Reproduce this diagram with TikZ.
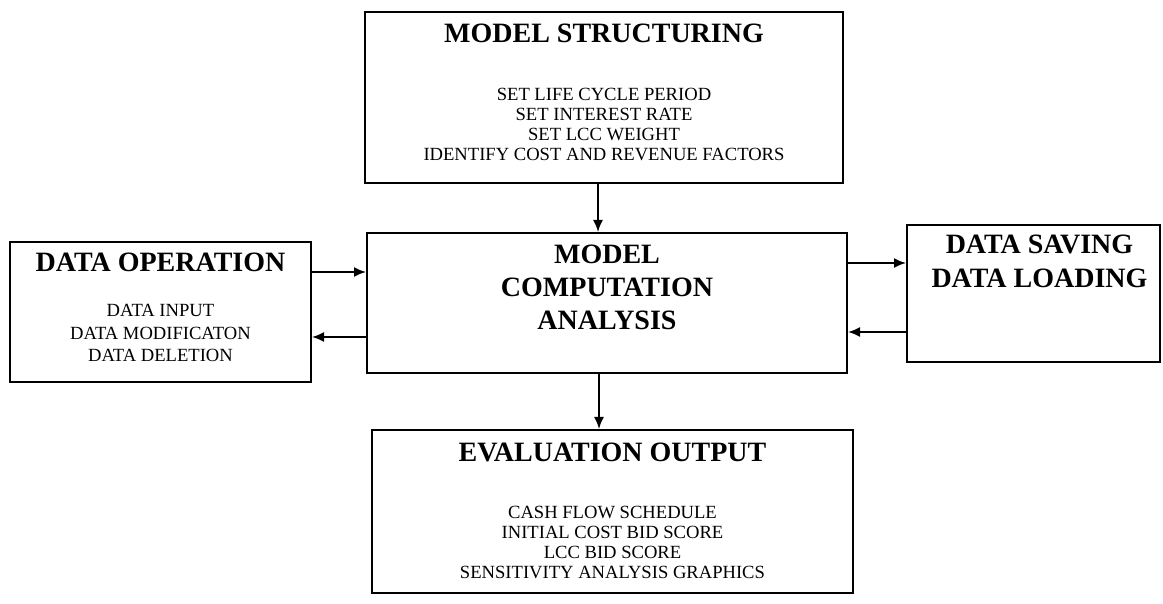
\documentclass[tikz,border=0pt]{standalone}
\usepackage{fontspec}
\setmainfont{Liberation Serif}
\usetikzlibrary{positioning,arrows.meta}
\tikzset{
  box/.style={draw, line width=1pt, inner sep=0pt},
  head/.style={inner sep=0pt, align=center, font=\fontsize{14}{16.5}\selectfont\bfseries},
  item/.style={inner sep=0pt, align=center, font=\fontsize{9.3}{10}\selectfont},
  flow/.style={-{Latex[length=6pt,width=5pt]}, line width=0.9pt},
}
\begin{document}
\begin{tikzpicture}[x=0.5pt,y=-0.5pt]
    \useasboundingbox (0,0) rectangle (1163,604);
    % boxes
    \node[box, minimum width=239pt, minimum height=85.5pt] (ms) at (604,97.5) {};
    \node[box, minimum width=240pt, minimum height=70pt] (comp) at (607,303) {};
    \node[box, minimum width=150.5pt, minimum height=70pt] (dop) at (160.5,312) {};
    \node[box, minimum width=126.5pt, minimum height=68.5pt] (dsl) at (1033.5,293.5) {};
    \node[box, minimum width=240.5pt, minimum height=81.5pt] (eo) at (612.5,511.5) {};
    % texts
    \node[head, below=6.5pt of ms.north] (ms-head) {MODEL STRUCTURING};
    \node[item, below=38.5pt of ms.north] (ms-items) {SET LIFE CYCLE PERIOD\\SET INTEREST RATE\\SET LCC WEIGHT\\IDENTIFY COST AND REVENUE FACTORS};
    \node[head, below=6.5pt of comp.north] (comp-head) {MODEL\\COMPUTATION\\ANALYSIS};
    \node[head, below=6pt of dop.north] (dop-head) {DATA OPERATION};
    \node[item, font=\fontsize{9.3}{11.25}\selectfont, below=31.5pt of dop.north] (dop-items) {DATA INPUT\\DATA MODIFICATON\\DATA DELETION};
    \node[head, font=\fontsize{14}{17}\selectfont\bfseries, below=5.5pt of dsl.north, xshift=3pt] (dsl-head) {DATA SAVING\\DATA LOADING};
    \node[head, below=7pt of eo.north] (eo-head) {EVALUATION OUTPUT};
    \node[item, below=38.5pt of eo.north] (eo-items) {CASH FLOW SCHEDULE\\INITIAL COST BID SCORE\\LCC BID SCORE\\SENSITIVITY ANALYSIS GRAPHICS};
    % connectors
    \draw[flow] ([xshift=-3pt]ms.south) -- ([xshift=-3pt]ms.south |- comp.north);
    \draw[flow] ([xshift=-4pt]comp.south) -- ([xshift=-4pt]comp.south |- eo.north);
    \draw[flow] ([yshift=20pt]dop.east) -- ([yshift=20pt]dop.east -| comp.west);
    \draw[flow] ([yshift=-12.5pt]dop.east -| comp.west) -- ([yshift=-12.5pt]dop.east);
    \draw[flow] ([yshift=20pt]comp.east) -- ([yshift=20pt]comp.east -| dsl.west);
    \draw[flow] ([yshift=-14.5pt]comp.east -| dsl.west) -- ([yshift=-14.5pt]comp.east);
\end{tikzpicture}
\end{document}
